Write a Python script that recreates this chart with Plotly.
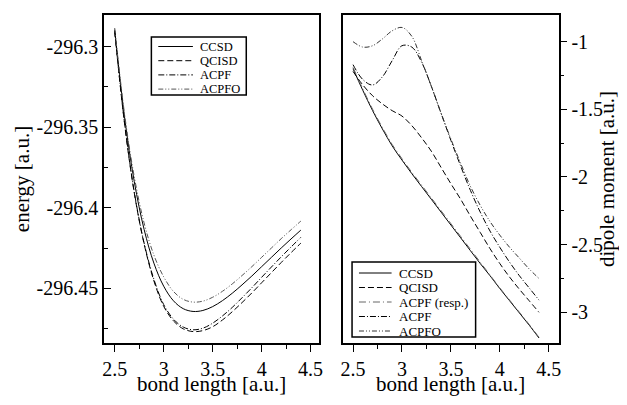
import plotly.graph_objects as go

# ---------------- data ----------------
bond_length = [2.5, 2.6, 2.7, 2.8, 2.9, 3.0, 3.1, 3.2, 3.3, 3.4,
               3.5, 3.6, 3.7, 3.8, 3.9, 4.0, 4.1, 4.2, 4.3, 4.4]

energy_ccsd = [-296.2894, -296.3435, -296.3838, -296.4134, -296.4344, -296.4487, -296.4578,
               -296.4627, -296.4644, -296.4638, -296.4614, -296.4577, -296.4531, -296.4479,
               -296.4424, -296.4366, -296.4308, -296.4250, -296.4194, -296.4139]
energy_qcisd = [-296.2904, -296.3475, -296.3908, -296.4224, -296.4454, -296.4612, -296.4703,
                -296.4752, -296.4769, -296.4763, -296.4739, -296.4697, -296.4646, -296.4589,
                -296.4529, -296.4466, -296.4403, -296.4340, -296.4279, -296.4220]
energy_acpf = [-296.2904, -296.3470, -296.3903, -296.4219, -296.4444, -296.4601, -296.4692,
               -296.4741, -296.4758, -296.4748, -296.4717, -296.4672, -296.4619, -296.4559,
               -296.4497, -296.4432, -296.4368, -296.4305, -296.4244, -296.4184]
energy_acpfo = [-296.2884, -296.3415, -296.3808, -296.4094, -296.4294, -296.4429, -296.4520,
                -296.4569, -296.4586, -296.4580, -296.4556, -296.4519, -296.4473, -296.4421,
                -296.4366, -296.4308, -296.4250, -296.4192, -296.4137, -296.4083]

dipole_ccsd = [-1.20, -1.36, -1.51, -1.645, -1.77, -1.875, -1.975, -2.07, -2.165, -2.26,
               -2.355, -2.45, -2.545, -2.64, -2.73, -2.825, -2.915, -3.005, -3.095, -3.19]
dipole_qcisd = [-1.22, -1.32, -1.40, -1.46, -1.51, -1.55, -1.62, -1.71, -1.81, -1.93,
                -2.05, -2.165, -2.29, -2.41, -2.53, -2.64, -2.74, -2.83, -2.915, -3.0]
dipole_acpf_resp = [-1.19, -1.35, -1.50, -1.635, -1.76, -1.865, -1.965, -2.06, -2.155, -2.25,
                    -2.345, -2.44, -2.535, -2.63, -2.725, -2.82, -2.91, -3.0, -3.09, -3.185]
dipole_acpf = [-1.17, -1.28, -1.32, -1.26, -1.14, -1.03, -1.04, -1.15, -1.33, -1.53,
               -1.73, -1.92, -2.10, -2.26, -2.40, -2.52, -2.63, -2.73, -2.82, -2.91]
dipole_acpfo = [-1.00, -1.04, -1.03, -0.98, -0.92, -0.895, -0.96, -1.14, -1.33, -1.53,
                -1.72, -1.90, -2.07, -2.21, -2.33, -2.43, -2.52, -2.60, -2.68, -2.75]

energy_ticks = [-296.3, -296.35, -296.4, -296.45]
energy_ticklabels = ["-296.3", "-296.35", "-296.4", "-296.45"]
dipole_ticks = [-1, -1.5, -2, -2.5, -3]
dipole_ticklabels = ["-1", "-1.5", "-2", "-2.5", "-3"]
x_ticks = [2.5, 3, 3.5, 4, 4.5]
x_ticklabels = ["2.5", "3", "3.5", "4", "4.5"]
x_title = "bond length [a.u.]"

# ---------------- styles ----------------
FONT = "Liberation Serif"
SOLID = "solid"
DASH = "6px,3px"
DASHDOT = "6px,2px,1px,2px"
DASHDOT_R = "7px,3px,1px,3px"
DASHDOTDOT = "5px,2px,1px,2px,1px,2px"

# the page body has an 8px margin; size the figure so it fits the 627x405 window
PAGE_MARGIN = 8
WIN_W, WIN_H = 627, 405
W, H = WIN_W - 2 * PAGE_MARGIN, WIN_H - 2 * PAGE_MARGIN


def fx(x):  # window pixel -> paper fraction
    return (x - PAGE_MARGIN) / W


def fy(y):
    return 1 - (y - PAGE_MARGIN) / H


L_x0, L_x1 = 102, 320
R_x0, R_x1 = 344, 562
Y_top, Y_bot = 15, 343

fig = go.Figure()

left_series = [
    ("CCSD", energy_ccsd, SOLID, "black"),
    ("QCISD", energy_qcisd, DASH, "black"),
    ("ACPF", energy_acpf, DASHDOT, "black"),
    ("ACPFO", energy_acpfo, DASHDOTDOT, "#555555"),
]
right_series = [
    ("CCSD", dipole_ccsd, SOLID, "black"),
    ("QCISD", dipole_qcisd, DASH, "black"),
    ("ACPF (resp.)", dipole_acpf_resp, DASHDOT_R, "#666666"),
    ("ACPF", dipole_acpf, DASHDOT, "black"),
    ("ACPFO", dipole_acpfo, DASHDOTDOT, "#333333"),
]
for name, ys, dash, col in left_series:
    fig.add_trace(go.Scatter(x=bond_length, y=ys, mode="lines", name=name, showlegend=False,
                             line=dict(color=col, width=1, dash=dash, shape="spline"),
                             xaxis="x", yaxis="y"))
for name, ys, dash, col in right_series:
    fig.add_trace(go.Scatter(x=bond_length, y=ys, mode="lines", name=name, showlegend=False,
                             line=dict(color=col, width=1, dash=dash, shape="spline"),
                             xaxis="x2", yaxis="y2"))

# ---------------- compact legends (drawn as layout decorations) ----------------
shapes, annotations = [], []


def add_legend(series, box, row0, row_h, line_x0, line_x1, text_x, size):
    x0, y0, x1, y1 = box
    shapes.append(dict(type="rect", xref="paper", yref="paper",
                       x0=fx(x0), x1=fx(x1), y0=fy(y1), y1=fy(y0),
                       line=dict(color="black", width=1.5), fillcolor="white", layer="above"))
    for i, (name, _, dash, col) in enumerate(series):
        yy = row0 + i * row_h
        shapes.append(dict(type="line", xref="paper", yref="paper",
                           x0=fx(line_x0), x1=fx(line_x1), y0=fy(yy), y1=fy(yy),
                           line=dict(color=col, width=1, dash=dash), layer="above"))
        annotations.append(dict(xref="paper", yref="paper", x=fx(text_x), y=fy(yy),
                                xanchor="left", yanchor="middle", text=name, showarrow=False,
                                borderpad=0,
                                font=dict(family=FONT, size=size, color="black")))


add_legend(left_series, (150, 37, 246, 95), 46.5, 14.2, 157, 192, 198, 12.5)
add_legend(right_series, (353, 262, 478, 337), 273, 14.5, 360, 393, 399, 13)

# x-axis titles placed under each panel
for x0, x1 in ((L_x0, L_x1), (R_x0, R_x1)):
    annotations.append(dict(xref="paper", yref="paper", x=fx((x0 + x1) / 2), y=fy(384),
                            xanchor="center", yanchor="middle", text=x_title, showarrow=False,
                            borderpad=0, font=dict(family=FONT, size=21, color="black")))

axis_common = dict(showline=True, linecolor="black", linewidth=1.5, mirror=True,
                   showgrid=False, zeroline=False, ticklen=7, tickwidth=1,
                   tickcolor="black", tickfont=dict(family=FONT, size=20, color="black"))
title_font = dict(family=FONT, size=21, color="black")

fig.update_layout(
    width=W, height=H,
    margin=dict(l=0, r=0, t=0, b=0),
    paper_bgcolor="white", plot_bgcolor="white",
    font=dict(family=FONT, color="black"),
    showlegend=False,
    shapes=shapes, annotations=annotations,
    xaxis=dict(domain=[fx(L_x0), fx(L_x1)], range=[2.39, 4.59], anchor="y",
               tickmode="array", tickvals=x_ticks, ticktext=x_ticklabels, ticks="outside",
               minor=dict(dtick=0.25, tick0=2.5, ticks="outside", ticklen=4, tickcolor="black"),
               **axis_common),
    yaxis=dict(domain=[fy(Y_bot), fy(Y_top)], range=[-296.484, -296.2803], anchor="x",
               tickmode="array", tickvals=energy_ticks, ticktext=energy_ticklabels, ticks="inside",
               minor=dict(dtick=0.025, tick0=-296.3, ticks="inside", ticklen=4, tickcolor="black"),
               title=dict(text="energy [a.u.]", font=title_font, standoff=1),
               **axis_common),
    xaxis2=dict(domain=[fx(R_x0), fx(R_x1)], range=[2.399, 4.601], anchor="y2",
                tickmode="array", tickvals=x_ticks, ticktext=x_ticklabels, ticks="outside",
                minor=dict(dtick=0.25, tick0=2.5, ticks="outside", ticklen=4, tickcolor="black"),
                **axis_common),
    yaxis2=dict(domain=[fy(Y_bot), fy(Y_top)], range=[-3.227, -0.803], anchor="x2",
                side="right",
                tickmode="array", tickvals=dipole_ticks, ticktext=dipole_ticklabels, ticks="outside",
                minor=dict(dtick=0.25, tick0=-1, ticks="outside", ticklen=4, tickcolor="black"),
                title=dict(text="dipole moment [a.u.]", font=title_font, standoff=1),
                **axis_common),
)

fig.write_html("out.html")
